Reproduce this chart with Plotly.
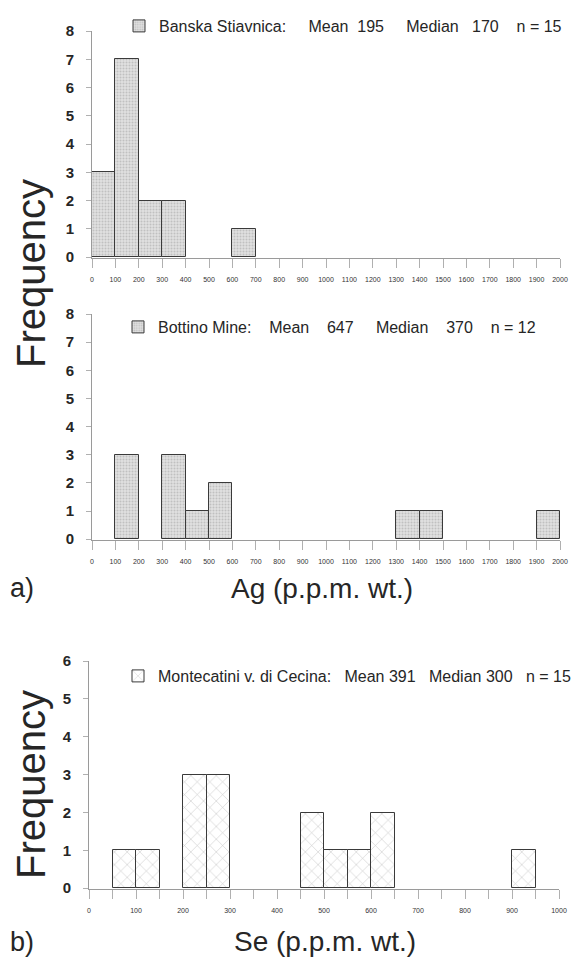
import plotly.graph_objects as go

# ---------------- data ----------------
ag_ticks = list(range(0, 2001, 100))
se_ticks = list(range(0, 1001, 100))

NB = "\u00a0"

banska_bin_start = [0, 100, 200, 300, 600]
banska_counts = [3, 7, 2, 2, 1]
banska_label = ("Banska Stiavnica:" + NB * 5 + "Mean" + NB * 2 + "195" + NB * 5 +
                "Median" + NB * 3 + "170" + NB * 4 + "n = 15")

bottino_bin_start = [100, 300, 400, 500, 1300, 1400, 1900]
bottino_counts = [3, 3, 1, 2, 1, 1, 1]
bottino_label = ("Bottino Mine:" + NB * 4 + "Mean" + NB * 4 + "647" + NB * 5 +
                 "Median" + NB * 4 + "370" + NB * 4 + "n = 12")

monte_bin_start = [50, 100, 200, 250, 450, 500, 550, 600, 900]
monte_counts = [1, 1, 3, 3, 2, 1, 1, 2, 1]
monte_label = ("Montecatini v. di Cecina:" + NB * 3 + "Mean 391" + NB * 3 +
               "Median 300" + NB * 3 + "n = 15")

ag_bin_width = 100
se_bin_width = 50

# page has an 8px body margin: figure sized so it fits exactly in the 579x968 window
OFF = 8
W, H = 579 - 2 * OFF, 968 - 2 * OFF
SANS = "Liberation Sans, Arial, sans-serif"
TXT = "#262626"
AX = "#9a9a9a"


def px_x(p):
    return (p - OFF) / W


def px_y(p):
    return 1 - (p - OFF) / H


fig = go.Figure()

stipple = dict(shape=".", fgcolor="#a0a0a0", bgcolor="#e0e0e0", size=3, solidity=0.35)
cross = dict(shape="x", fgcolor="#8c8c8c", bgcolor="#ffffff", size=9, solidity=0.12)

fig.add_trace(go.Bar(x=banska_bin_start, y=banska_counts, width=ag_bin_width, offset=0,
                     marker=dict(color="#e0e0e0", pattern=stipple, line=dict(color="#3a3a3a", width=1)),
                     name=banska_label, xaxis="x", yaxis="y", legend="legend", showlegend=True))
fig.add_trace(go.Bar(x=bottino_bin_start, y=bottino_counts, width=ag_bin_width, offset=0,
                     marker=dict(color="#e0e0e0", pattern=stipple, line=dict(color="#3a3a3a", width=1)),
                     name=bottino_label, xaxis="x2", yaxis="y2", legend="legend2", showlegend=True))
fig.add_trace(go.Bar(x=monte_bin_start, y=monte_counts, width=se_bin_width, offset=0,
                     marker=dict(color="#ffffff", pattern=cross, line=dict(color="#3a3a3a", width=1)),
                     name=monte_label, xaxis="x3", yaxis="y3", legend="legend3", showlegend=True))

xcommon = dict(showline=True, linecolor=AX, linewidth=1, ticks="outside", ticklen=9, tickwidth=1,
               tickcolor="#b0b0b0", showgrid=False, zeroline=False, layer="below traces",
               tickfont=dict(family=SANS, size=7, color="#333333"), ticklabelstandoff=6)
ycommon = dict(showline=True, linecolor=AX, linewidth=1, ticks="outside", ticklen=5, tickwidth=1,
               tickcolor="#b0b0b0", showgrid=False, zeroline=False, dtick=1, tick0=0,
               tickfont=dict(family=SANS, size=15, color=TXT, weight="bold"), ticklabelstandoff=9)

fig.update_layout(
    width=W, height=H, margin=dict(l=0, r=0, t=0, b=0, autoexpand=False),
    paper_bgcolor="white", plot_bgcolor="white", barmode="overlay", bargap=0,
    showlegend=True,
    xaxis=dict(domain=[px_x(92), px_x(560)], range=[0, 2000], anchor="y",
               tickvals=ag_ticks, ticktext=[str(v) for v in ag_ticks], **xcommon),
    yaxis=dict(domain=[px_y(258), px_y(31)], range=[-0.03, 8], anchor="x", **ycommon),
    xaxis2=dict(domain=[px_x(92), px_x(560)], range=[0, 2000], anchor="y2",
                tickvals=ag_ticks, ticktext=[str(v) for v in ag_ticks], **xcommon),
    yaxis2=dict(domain=[px_y(540), px_y(314)], range=[-0.03, 8], anchor="x2", **ycommon),
    xaxis3=dict(domain=[px_x(89), px_x(559)], range=[0, 1000], anchor="y3",
                tickvals=se_ticks, ticktext=[str(v) for v in se_ticks],
                minor=dict(dtick=50, ticks="outside", ticklen=9, tickcolor="#b0b0b0"), **xcommon),
    yaxis3=dict(domain=[px_y(889), px_y(661)], range=[-0.02, 6], anchor="x3", **ycommon),
)

leg = dict(xanchor="left", yanchor="top", bgcolor="rgba(0,0,0,0)", borderwidth=0,
           font=dict(family=SANS, size=16, color=TXT), itemwidth=30, tracegroupgap=0)
fig.update_layout(
    legend=dict(x=px_x(119), y=px_y(28 - 19), **leg),
    legend2=dict(x=px_x(118), y=px_y(329 - 19), **leg),
    legend3=dict(x=px_x(118), y=px_y(678 - 19), **leg),
)

ann = []
ann.append(dict(text="Frequency", x=px_x(31), y=px_y(274), textangle=-90,
                font=dict(family=SANS, size=40, color=TXT)))
ann.append(dict(text="Frequency", x=px_x(31), y=px_y(785), textangle=-90,
                font=dict(family=SANS, size=40, color=TXT)))
ann.append(dict(text="Ag (p.p.m. wt.)", x=px_x(322), y=px_y(588),
                font=dict(family=SANS, size=28, color=TXT)))
ann.append(dict(text="Se (p.p.m. wt.)", x=px_x(325), y=px_y(941),
                font=dict(family=SANS, size=28, color=TXT)))
ann.append(dict(text="a)", x=px_x(22), y=px_y(588), font=dict(family=SANS, size=27, color=TXT)))
ann.append(dict(text="b)", x=px_x(22), y=px_y(942), font=dict(family=SANS, size=27, color=TXT)))
for a in ann:
    a.update(xref="paper", yref="paper", showarrow=False, xanchor="center", yanchor="middle")
fig.update_layout(annotations=ann)

fig.write_html("out.html")
